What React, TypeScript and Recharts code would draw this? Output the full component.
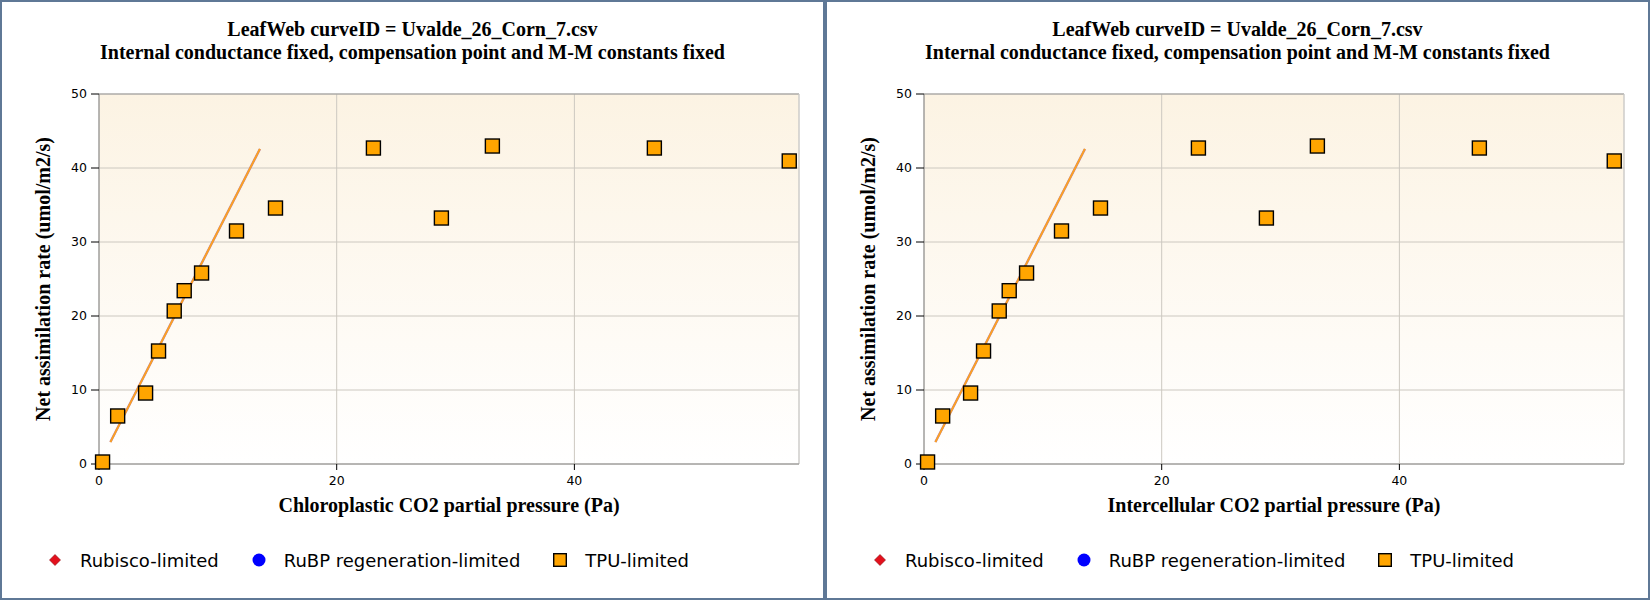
import React from 'react';
import { ScatterChart, Scatter, XAxis, YAxis, CartesianGrid, ReferenceLine } from 'recharts';

// measured points (Ci / Cc in Pa, net assimilation in umol/m2/s)
const CO2_PA = [0.3, 1.57, 3.92, 5.01, 6.33, 7.17, 8.63, 11.57, 14.85, 23.09, 28.81, 33.1, 46.73, 58.08];
const NET_A = [0.27, 6.49, 9.59, 15.27, 20.68, 23.42, 25.81, 31.49, 34.59, 42.7, 33.24, 42.97, 42.7, 40.95];

// fitted limitation line (two end points)
const FIT_CO2 = [0.96, 13.54];
const FIT_A = [2.97, 42.57];

const X_TICKS = [0, 20, 40];
const Y_TICKS = [0, 10, 20, 30, 40, 50];
const X_MAX = 58.9;

const TITLE_LINES = [
  'LeafWeb curveID = Uvalde_26_Corn_7.csv',
  'Internal conductance fixed, compensation point and M-M constants fixed',
];
const X_LABELS = ['Chloroplastic CO2 partial pressure (Pa)', 'Intercellular CO2 partial pressure (Pa)'];
const Y_LABEL = 'Net assimilation rate (umol/m2/s)';

const LEGEND_NAMES = ['Rubisco-limited', 'RuBP regeneration-limited', 'TPU-limited'];
const LEGEND_COLORS = ['#e3101c', '#0000ff', '#ffa500'];
const LEGEND_SHAPES = ['diamond', 'circle', 'square'];

const points = CO2_PA.map((x, i) => ({ x, y: NET_A[i] }));
const fit = FIT_CO2.map((x, i) => ({ x, y: FIT_A[i] }));

const serif = '"Liberation Serif", "Times New Roman", serif';
const sans = '"DejaVu Sans", Verdana, sans-serif';

const SquareMark = (props: any) => {
  const { cx, cy } = props;
  if (cx == null || cy == null) return <g />;
  return <rect x={cx - 7} y={cy - 7} width={14} height={14} fill="#ffa500" stroke="#000" strokeWidth={1.4} />;
};

const LegendIcon = ({ shape, color }: { shape: string; color: string }) => (
  <svg width={14} height={14} style={{ display: 'block' }}>
    {shape === 'diamond' && <polygon points="7,1.5 12.5,7 7,12.5 1.5,7" fill={color} stroke="#8a0a10" strokeWidth={0.6} />}
    {shape === 'circle' && <circle cx={7} cy={7} r={6.5} fill={color} />}
    {shape === 'square' && <rect x={0.7} y={0.7} width={12.6} height={12.6} fill={color} stroke="#000" strokeWidth={1.4} />}
  </svg>
);

const Panel = ({ xLabel, idx }: { xLabel: string; idx: number }) => {
  const gradId = `plotBg${idx}`;
  return (
    <div
      style={{
        position: 'relative',
        width: 825,
        height: 600,
        boxSizing: 'border-box',
        border: '2px solid #5f7896',
        background: '#fff',
      }}
    >
      <div
        style={{
          position: 'absolute',
          top: 16,
          left: 0,
          width: '100%',
          textAlign: 'center',
          fontFamily: serif,
          fontWeight: 'bold',
          fontSize: 20,
          lineHeight: '23px',
          color: '#000',
          zIndex: 2,
        }}
      >
        {TITLE_LINES.map((t) => (
          <div key={t}>{t}</div>
        ))}
      </div>

      <ScatterChart width={821} height={596} margin={{ top: 92, right: 24, bottom: 74, left: 0 }}>
        <defs>
          <linearGradient id={gradId} x1="0" y1="0" x2="0" y2="1">
            <stop offset="0%" stopColor="#fcf3e3" />
            <stop offset="100%" stopColor="#ffffff" />
          </linearGradient>
        </defs>
        <CartesianGrid stroke="#ccc8c0" fill={`url(#${gradId})`} fillOpacity={1} />
        <XAxis
          type="number"
          dataKey="x"
          domain={[0, X_MAX]}
          ticks={X_TICKS}
          height={60}
          tickSize={6}
          tickMargin={6}
          axisLine={{ stroke: '#888' }}
          tickLine={{ stroke: '#000' }}
          tick={{ fill: '#000', fontSize: 12.5, fontFamily: sans }}
          label={{
            value: xLabel,
            position: 'insideBottom',
            offset: 12,
            fill: '#000',
            fontSize: 20,
            fontWeight: 'bold',
            fontFamily: serif,
          }}
        />
        <YAxis
          type="number"
          dataKey="y"
          domain={[Y_TICKS[0], Y_TICKS[Y_TICKS.length - 1]]}
          ticks={Y_TICKS}
          width={97}
          tickSize={8}
          tickMargin={4}
          axisLine={{ stroke: '#888' }}
          tickLine={{ stroke: '#000' }}
          tick={{ fill: '#000', fontSize: 12.5, fontFamily: sans }}
          label={{
            value: Y_LABEL,
            angle: -90,
            position: 'insideLeft',
            offset: 41,
            fill: '#000',
            fontSize: 20,
            fontWeight: 'bold',
            fontFamily: serif,
            style: { textAnchor: 'middle' },
          }}
        />
        <ReferenceLine y={Y_TICKS[Y_TICKS.length - 1]} stroke="#9c9c9c" />
        <ReferenceLine x={X_MAX} stroke="#cfcfcf" />
        <Scatter
          data={fit}
          line={{ stroke: '#b8809a', strokeWidth: 2.4 }}
          shape={() => <g />}
          legendType="none"
          isAnimationActive={false}
        />
        <Scatter
          data={fit}
          line={{ stroke: '#ffa21e', strokeWidth: 1.7 }}
          shape={() => <g />}
          legendType="none"
          isAnimationActive={false}
        />
        <Scatter data={points} shape={<SquareMark />} fill="#ffa500" isAnimationActive={false} />
      </ScatterChart>

      <div
        style={{
          position: 'absolute',
          top: 546,
          left: 46,
          height: 24,
          display: 'flex',
          alignItems: 'center',
          fontFamily: sans,
          fontSize: 18,
          color: '#000',
          whiteSpace: 'nowrap',
        }}
      >
        {LEGEND_NAMES.map((name, i) => (
          <div key={name} style={{ display: 'flex', alignItems: 'center', marginRight: 33 }}>
            <LegendIcon shape={LEGEND_SHAPES[i]} color={LEGEND_COLORS[i]} />
            <span style={{ marginLeft: 18 }}>{name}</span>
          </div>
        ))}
      </div>
    </div>
  );
};

export default function App() {
  return (
    <div style={{ position: 'absolute', top: 0, left: 0, width: 1650, height: 600, display: 'flex', background: '#fff' }}>
      {X_LABELS.map((lbl, i) => (
        <Panel key={lbl} xLabel={lbl} idx={i} />
      ))}
    </div>
  );
}
